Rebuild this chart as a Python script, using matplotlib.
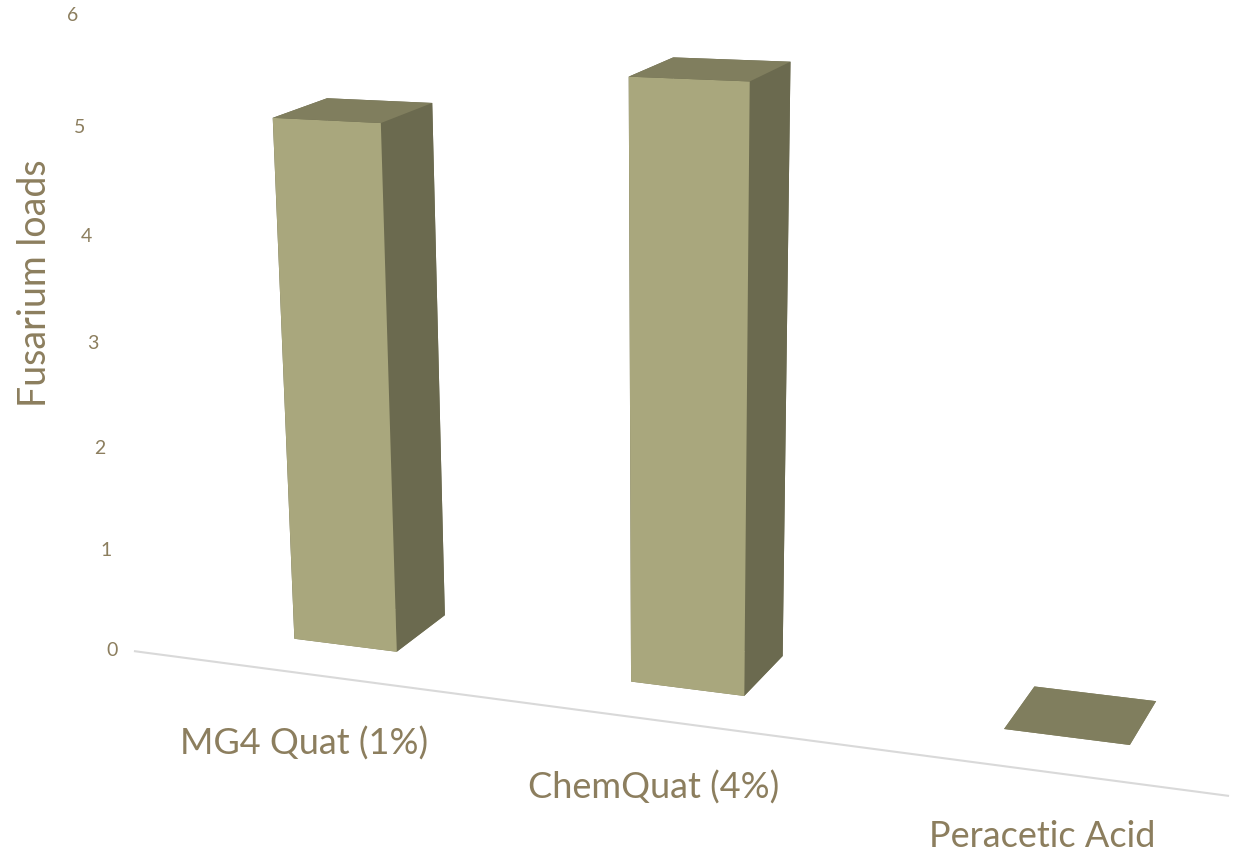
import numpy as np
import matplotlib
matplotlib.use("Agg")
import matplotlib.pyplot as plt

categories = ["MG4 Quat (1%)", "ChemQuat (4%)", "Peracetic Acid"]
values = [5.0, 5.5, 0.0]
yticks = [0, 1, 2, 3, 4, 5, 6]
ylabel = "Fusarium loads"

W, H = 1234, 853
FRONT, TOP, SIDE = "#A9A77D", "#807E5E", "#6B6A4F"
TXT = "#8C7E5E"

# camera of the 3D view (perspective, fitted to the original layout)
ELEV, AZIM, ROLL, FOCAL = 18.3913, -64.6737, 1.7692, 0.2291
CENTER = (0.5635, -0.9029, 1.7581)
Z_RATIO = 0.2916              # height of one value unit, in category spacings
BAR_W, BAR_D = 0.3147, 0.3288
SCALE, OFFSET = 13041.098, (387.8388, 589.7115)
FLOOR_Y, FLOOR_X = -0.246, (-0.5289, 2.4383)
LAB_X, LAB_Y, LAB_Z, LAB_DROP = -0.0182, -0.2078, 0.4476, 94.15   # drop in points
TICK_X, TICK_Y = -0.5964, -0.2547

plt.rcParams['font.family'] = ['Lato', 'DejaVu Sans']
fig = plt.figure(figsize=(W / 100, H / 100), dpi=100)
ax = fig.add_axes([0, 0, 1, 1], projection="3d")

n = len(values)
cols = []
for v in values:
    # faces: bottom, top, front, back, left, right
    cols += [TOP, TOP, FRONT, SIDE, SIDE, SIDE]
ax.bar3d(np.arange(n) - BAR_W / 2, np.zeros(n), np.zeros(n), BAR_W, BAR_D, values,
         color=cols, shade=False, linewidth=0)
ax.plot(FLOOR_X, [FLOOR_Y, FLOOR_Y], [0, 0], color="#D9D9D9", lw=1.5)
ax.set_axis_off()

ax.view_init(elev=ELEV, azim=AZIM, roll=ROLL)
ax.set_proj_type("persp", focal_length=FOCAL)
cx, cy, cz = CENTER
ax.set_xlim3d(cx - 2, cx + 2)
ax.set_ylim3d(cy - 2, cy + 2)
ax.set_zlim3d(cz - 3, cz + 3)
ax.set_box_aspect((4, 4, 6 * Z_RATIO))

# place the square 3D axes so the scene lands where it does in the original
vx0, vx1 = ax.viewLim.intervalx
vy0, vy1 = ax.viewLim.intervaly
left = SCALE * vx0 + OFFSET[0]
bottom = SCALE * vy0 + H - OFFSET[1]
ax.set_position([left / W, bottom / H, SCALE * (vx1 - vx0) / W, SCALE * (vy1 - vy0) / H])

M = ax.get_proj()


def project(x, y, z):
    p = M @ np.array([x, y, z, 1.0])
    return p[0] / p[3], p[1] / p[3]


for i, c in enumerate(categories):
    px, py = project(i + LAB_X, LAB_Y, LAB_Z)
    ax.annotate(c, (px, py), xycoords=ax.transData, xytext=(0, -LAB_DROP),
                textcoords="offset points", ha="center", va="baseline",
                fontsize=26, color=TXT)
for k in yticks:
    px, py = project(TICK_X, TICK_Y, k)
    ax.text2D(px, py, str(k), transform=ax.transData, ha="center", va="center",
              fontsize=14, color=TXT)

fig.text(35 / W, 1 - 283 / H, ylabel, rotation=90, ha="center", va="center",
         fontsize=27, color=TXT)

fig.savefig("out.png", dpi=100)
